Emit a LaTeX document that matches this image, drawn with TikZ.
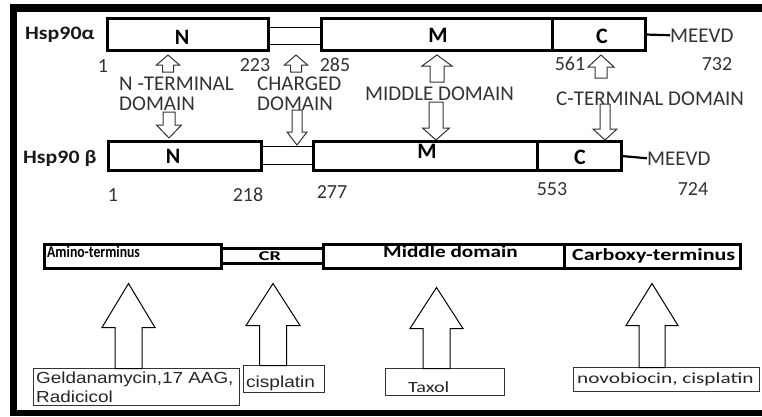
\documentclass[tikz,border=0pt]{standalone}
\usepackage{fontspec}
\usepackage{graphicx}
\setmainfont{Carlito}
\newfontfamily\arialf{Liberation Sans}
\definecolor{lab}{HTML}{333333}
\newcommand\hs[2]{\scalebox{#1}[1]{#2}}
% block arrows: style, base point (tail centre), length, head length, half head width, half shaft width
\newcommand\blkup[6]{\draw[#1] #2 ++(-#6,0) -- ++(0,{-(#3-#4)}) -- ++({-(#5-#6)},0) -- ++(#5,-#4) -- ++(#5,#4) -- ++({-(#5-#6)},0) -- ++(0,{#3-#4}) -- cycle;}
\newcommand\blkdn[6]{\draw[#1] #2 ++(-#6,0) -- ++(0,{#3-#4}) -- ++({-(#5-#6)},0) -- ++(#5,#4) -- ++(#5,-#4) -- ++({-(#5-#6)},0) -- ++(0,{-(#3-#4)}) -- cycle;}
\tikzset{
  dom/.style={draw=black, line width=3bp, fill=white, inner sep=0pt, outer sep=0pt, anchor=north west},
  lnk/.style={draw=black, line width=1.3bp, fill=white, inner sep=0pt, outer sep=0pt, anchor=north west},
  tbox/.style={draw=black!80, line width=1bp, fill=white, inner sep=0pt, outer sep=0pt, anchor=north west},
  lbl/.style={text=lab, inner sep=0pt, anchor=base west, font=\fontsize{21bp}{24bp}\selectfont},
  num/.style={text=lab, inner sep=0pt, anchor=base, font=\fontsize{20bp}{23bp}\selectfont},
  dlet/.style={text=black, inner sep=0pt, anchor=base, font=\bfseries\fontsize{22bp}{26bp}\selectfont},
  hsp/.style={text=black!90, inner sep=0pt, anchor=base west, font=\bfseries\fontsize{19bp}{22bp}\selectfont},
  smarr/.style={draw=lab, line width=1bp, fill=white, line join=miter},
  bigarr/.style={draw=black, line width=1bp, fill=white, line join=miter},
  btitle/.style={text=black, inner sep=0pt, anchor=base west},
  drug/.style={text=black!85, inner sep=0pt, anchor=base west},
}
\begin{document}
\begin{tikzpicture}[x=1bp,y=-1bp]
\useasboundingbox (0,0) rectangle (762,416);
\fill[white] (0,0) rectangle (762,416);
% frame
\fill[black] (10,4) rectangle (17,416);
\fill[black] (10,4) rectangle (762,12);
\fill[black] (10,410) rectangle (762,416);

% ---------- Hsp90 alpha ----------
\node[hsp] (ha) at (25,39) {\hs{1.15}{Hsp90α}};
\node[lnk, minimum width=53bp, minimum height=17bp] (aL) at (268.5,27.5) {};
\node[dom, minimum width=161bp, minimum height=32bp] (aN) at (107.5,18.5) {};
\node[dom, minimum width=230.5bp, minimum height=32bp] (aM) at (321.5,18.5) {};
\node[dom, minimum width=93.5bp, minimum height=32bp] (aC) at (552,18.5) {};
\node[dlet] (aNt) at (182,44) {N};
\node[dlet] (aMt) at (438,42) {M};
\node[dlet] (aCt) at (602,43) {C};
\node[lbl] (aMe) at (670,42) {MEEVD};
\draw[line width=2.2bp] (aC.east) -- (aMe.west);

\node[num] (a1) at (103,72) {1};
\node[num] (a223) at (255,71) {223};
\node[num] (a285) at (335,71) {285};
\node[num] (a561) at (570,70) {561};
\node[num] (a732) at (717,70) {732};

\node[lbl] (lN1) at (119,90) {N -TERMINAL};
\node[lbl] (lN2) at (119,110) {DOMAIN};
\node[lbl] (lC1) at (257,90) {CHARGED};
\node[lbl] (lC2) at (257,110) {DOMAIN};
\node[lbl] (lM) at (365,100) {MIDDLE DOMAIN};
\node[lbl] (lCt) at (556,105) {C-TERMINAL DOMAIN};

% small arrows
\blkup{smarr}{(168,72)}{17}{10}{11.5}{5.5}
\blkup{smarr}{(296,72)}{17}{10}{11.5}{5.5}
\blkup{smarr}{(437,82)}{27}{11}{15}{7}
\blkup{smarr}{(601,78)}{23}{12}{13}{6}
\blkdn{smarr}{(169,112)}{26}{13}{12.5}{6}
\blkdn{smarr}{(297,110)}{35}{13}{10}{5}
\blkdn{smarr}{(436,102)}{38}{12}{13.5}{7}
\blkdn{smarr}{(605,104)}{36}{11}{12}{5}

% ---------- Hsp90 beta ----------
\node[hsp] (hb) at (23,163) {\hs{1.15}{Hsp90 β}};
\node[lnk, minimum width=52bp, minimum height=18bp] (bL) at (261.5,146.5) {};
\node[dom, minimum width=153bp, minimum height=29bp] (bN) at (108.5,141.5) {};
\node[dom, minimum width=223.5bp, minimum height=29bp] (bM) at (313.5,141.5) {};
\node[dom, minimum width=84.5bp, minimum height=29bp] (bC) at (537,141.5) {};
\node[dlet] (bNt) at (173,163) {N};
\node[dlet] (bMt) at (427,158) {M};
\node[dlet] (bCt) at (580,164) {C};
\node[lbl] (bMe) at (647,165) {MEEVD};
\draw[line width=2.2bp] (bC.east) -- (bMe.west);

\node[num] (b1) at (113,201) {1};
\node[num] (b218) at (248,201) {218};
\node[num] (b277) at (332,198) {277};
\node[num] (b553) at (552,195) {553};
\node[num] (b724) at (693,195) {724};

% ---------- bottom domain bar ----------
\node[dom, minimum width=102bp, minimum height=15bp] (cr) at (221,248.5) {};
\node[dom, minimum width=176.5bp, minimum height=23.5bp] (am) at (44.5,244.5) {};
\node[dom, minimum width=241bp, minimum height=24bp] (md) at (323,244.5) {};
\node[dom, minimum width=176.5bp, minimum height=24bp] (cx) at (564,244.5) {};
\node[btitle, font=\bfseries\fontsize{16.5bp}{19bp}\selectfont] (amt) at (47,257.5) {\hs{0.83}{Amino-terminus}};
\node[btitle, anchor=base, font=\bfseries\fontsize{13.5bp}{15bp}\selectfont] (crt) at (270,260.5) {\hs{1.5}{CR}};
\node[btitle, font=\bfseries\fontsize{17bp}{20bp}\selectfont] (mdt) at (383,257) {\hs{1.25}{Middle domain}};
\node[btitle, font=\bfseries\fontsize{17bp}{20bp}\selectfont] (cxt) at (572,260.5) {\hs{1.3}{Carboxy-terminus}};

% drug boxes
\node[tbox, minimum width=206bp, minimum height=37bp] (geld) at (33.5,368.5) {};
\node[tbox, minimum width=81bp, minimum height=27bp] (cis) at (243.5,365.5) {};
\node[tbox, minimum width=119bp, minimum height=27bp] (tax) at (385.5,368.5) {};
\node[tbox, minimum width=186bp, minimum height=24bp] (nov) at (573.5,367.5) {};
\node[drug, font=\arialf\fontsize{16bp}{19bp}\selectfont] (geldt1) at (36,383) {\hs{1.18}{Geldanamycin,17 AAG,}};
\node[drug, font=\arialf\fontsize{16bp}{19bp}\selectfont] (geldt2) at (36,402) {\hs{1.18}{Radicicol}};
\node[drug, font=\arialf\fontsize{16bp}{19bp}\selectfont] (cist) at (246,387) {\hs{1.19}{cisplatin}};
\node[drug, font=\fontsize{15.5bp}{18bp}\selectfont] (taxt) at (408,392) {\hs{1.3}{Taxol}};
\node[drug, font=\fontsize{15.5bp}{18bp}\selectfont] (novt) at (577,383) {\hs{1.37}{novobiocin, cisplatin}};

% big arrows from drug boxes to domains
\blkup{bigarr}{([xshift=95bp]geld.north west)}{85}{44}{26.5}{13.5}
\blkup{bigarr}{([xshift=29.5bp]cis.north west)}{82}{42}{27}{13.5}
\blkup{bigarr}{([xshift=51bp]tax.north west)}{81}{41}{26.5}{13.5}
\blkup{bigarr}{([xshift=78.5bp]nov.north west)}{84}{42}{26}{13}
\end{tikzpicture}
\end{document}
